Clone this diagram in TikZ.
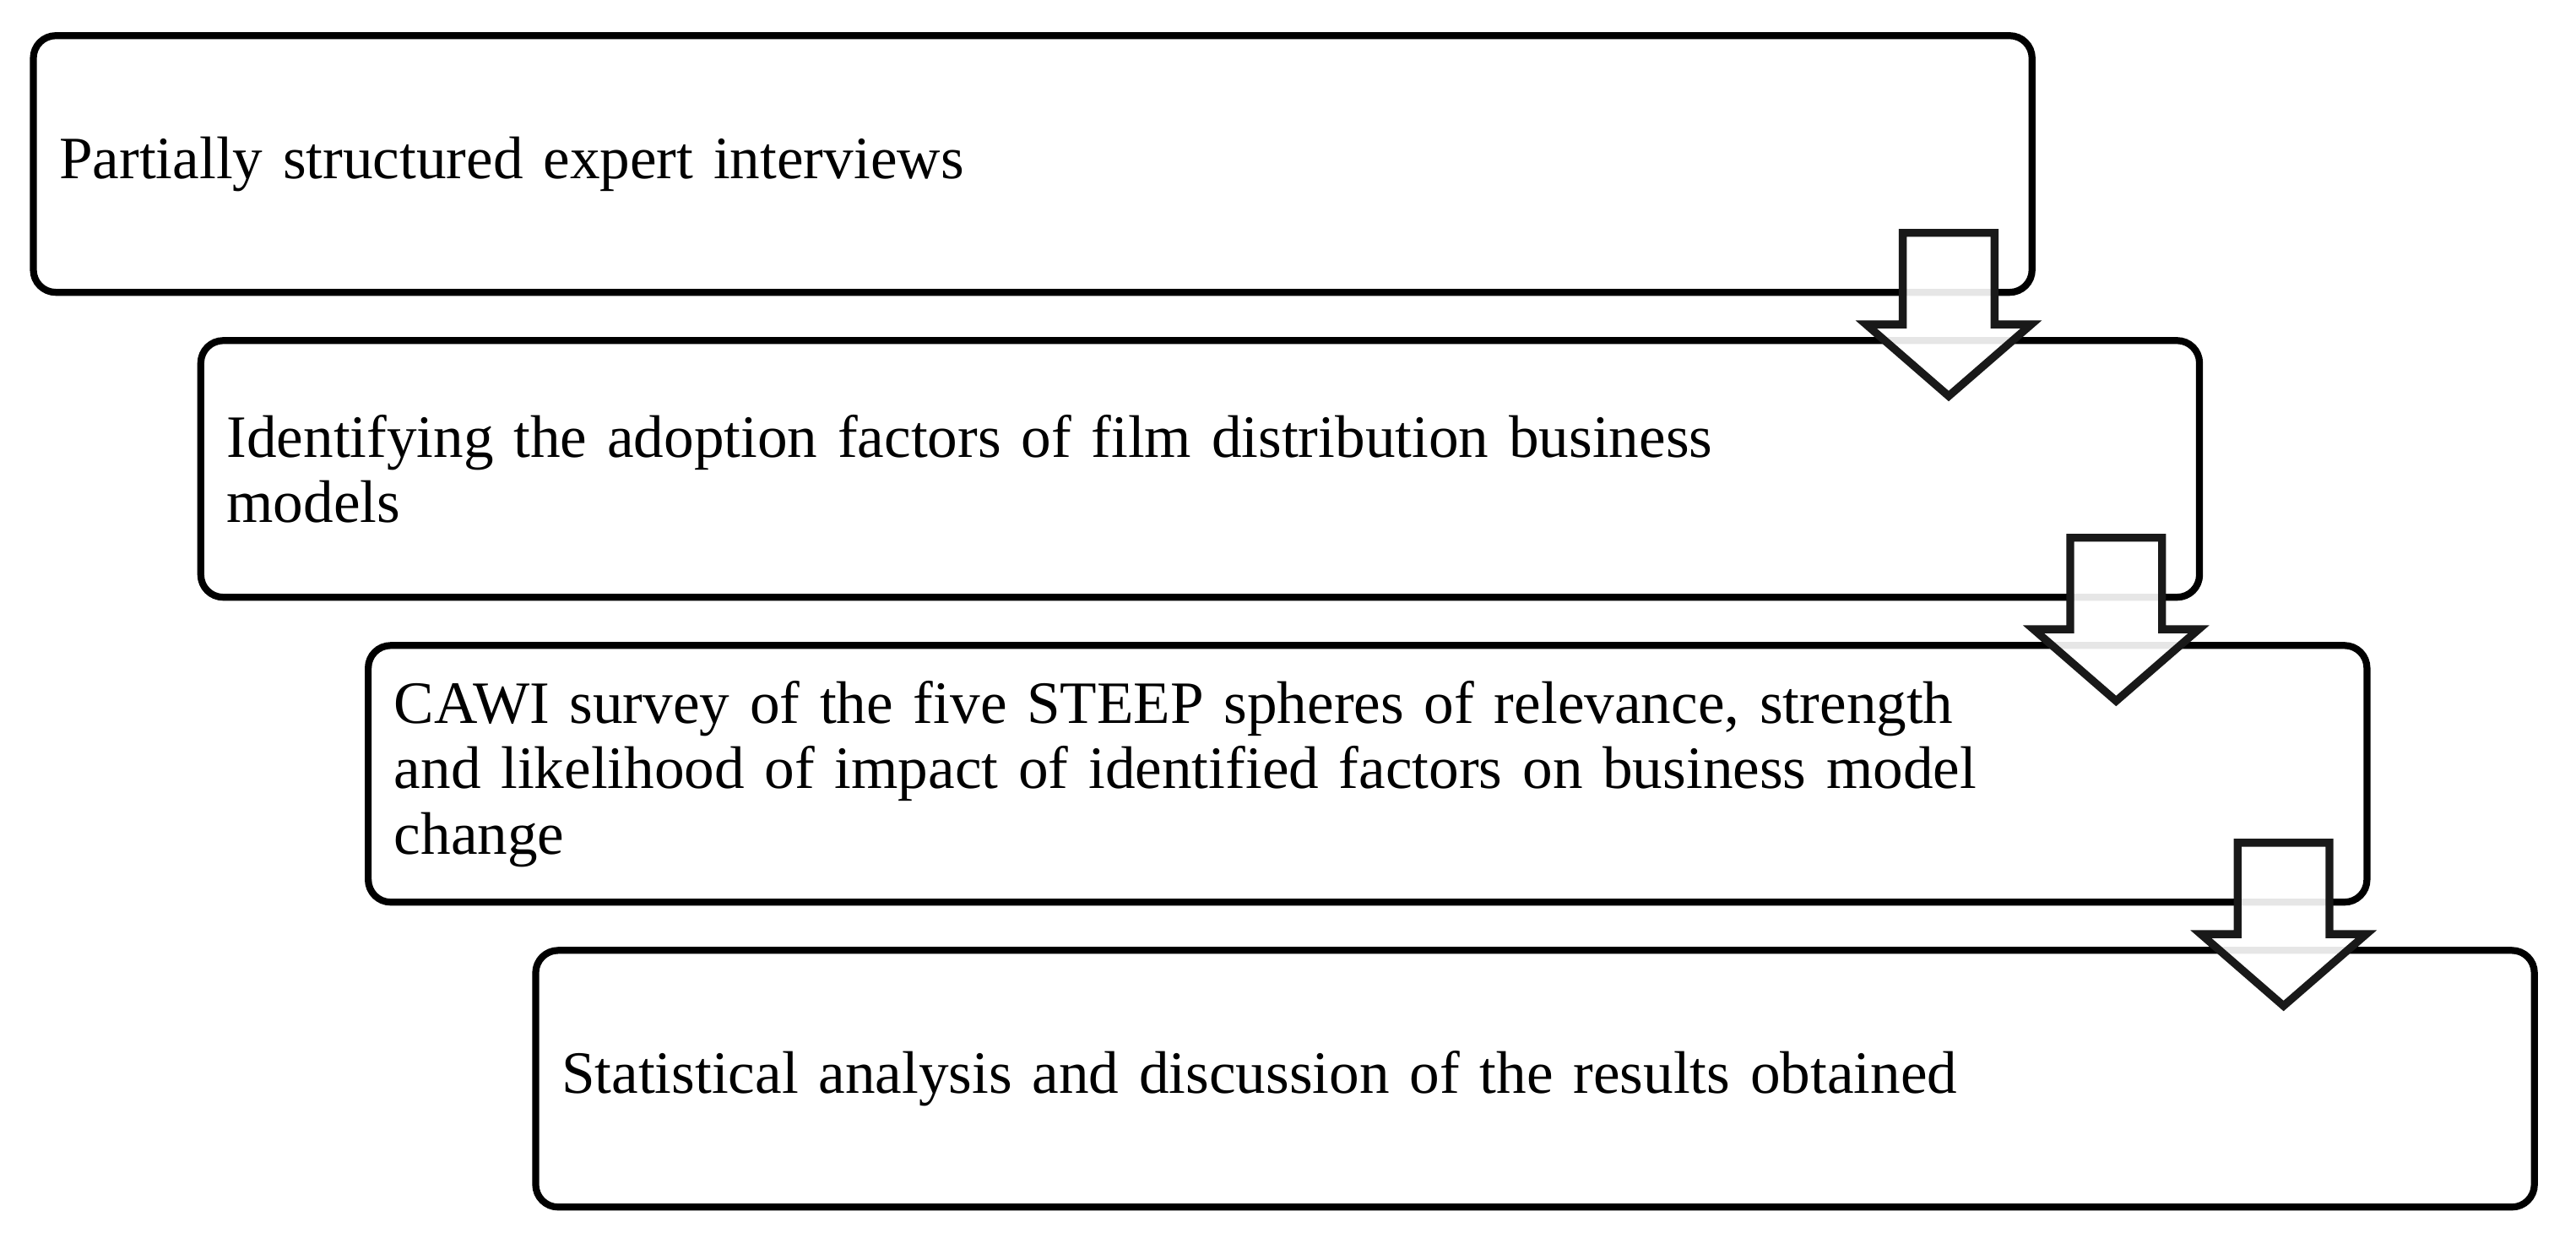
\documentclass[tikz,border=0pt]{standalone}
\usepackage{fontspec}
\setmainfont{Liberation Serif}
\usetikzlibrary{calc}

\begin{document}
\begin{tikzpicture} [x=0.5pt,y=0.5pt,line join=miter]
  \tikzstyle{stage}=[draw=black,line width=2.1pt,fill=white,rounded corners=6.8pt,outer sep=0pt,text width=589.5pt,minimum height=77.7pt,inner xsep=7.85pt,align=left,font=\fontsize{18.2}{19.8}\selectfont]
  \tikzstyle{flow}=[draw=black!90,line width=2.4pt,fill=white,fill opacity=0.9]

  \useasboundingbox (0,0) rectangle (1560,-753);

  \node[stage] (s1) at (625.4,-99.3) {Partially structured expert interviews};
  \node[stage] (s2) at ($(s1)+(101.4,-184.6)$) {Identifying the adoption factors of film distribution business\\models};
  \node[stage] (s3) at ($(s2)+(101.4,-184.6)$) {CAWI survey of the five STEEP spheres of relevance, strength\\and likelihood of impact of identified factors on business model\\change};
  \node[stage] (s4) at ($(s3)+(101.4,-184.6)$) {Statistical analysis and discussion of the results obtained};

  % block arrows between the stages
  \foreach \a in {s1,s2,s3}
    \draw[flow] ($(\a.south east)+(-78.3,36)$) -- ++(55.6,0) -- ++(0,-55.4) -- ++(22.2,0)
      -- ++(-50,-43.4) -- ++(-50,43.4) -- ++(22.2,0) -- cycle;

\end{tikzpicture}
\end{document}
